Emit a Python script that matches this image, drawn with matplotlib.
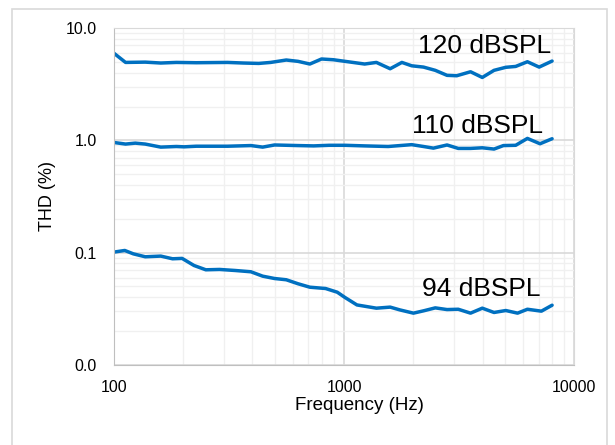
import matplotlib.pyplot as plt
from matplotlib.patches import Rectangle
from matplotlib.ticker import FixedLocator, FuncFormatter, LogLocator, NullFormatter

plt.rcParams['font.family'] = ['Liberation Sans', 'DejaVu Sans']

# THD en fonction de la frequence, trois niveaux de pression
freq_120 = [100, 112.5, 137, 160, 187, 228, 312, 365, 426, 480, 561, 631, 710, 798, 898,
            1010, 1228, 1381, 1585, 1782, 1966, 2212, 2488, 2799, 3085, 3540, 3981, 4477,
            5036, 5559, 6250, 7030, 8000]
thd_120 = [5.98, 4.94, 4.97, 4.88, 4.94, 4.91, 4.94, 4.88, 4.84, 4.94, 5.19, 5.05, 4.78, 5.30, 5.22,
           5.05, 4.78, 4.94, 4.34, 4.94, 4.61, 4.49, 4.20, 3.79, 3.76, 4.08, 3.63, 4.20,
           4.47, 4.55, 5.01, 4.49, 5.08]

freq_110 = [100, 112.5, 124, 137, 160, 187, 202, 228, 312, 394, 443, 499, 631, 738, 862,
            1010, 1228, 1553, 1966, 2212, 2442, 2799, 3131, 3540, 3981, 4477, 4918, 5559,
            6250, 7091, 8000]
thd_110 = [0.957, 0.926, 0.944, 0.926, 0.870, 0.881, 0.875, 0.886, 0.886, 0.898, 0.870, 0.909,
           0.898, 0.892, 0.903, 0.903, 0.892, 0.881, 0.915, 0.881, 0.852, 0.909, 0.847, 0.847,
           0.858, 0.836, 0.898, 0.903, 1.040, 0.932, 1.033]

freq_94 = [100, 111.6, 121.6, 137, 160, 180, 198, 223, 251, 288, 337, 394, 443, 499, 561,
           631, 710, 831, 934, 1010, 1137, 1381, 1585, 1745, 2000, 2212, 2488, 2799, 3131,
           3540, 3981, 4477, 5036, 5665, 6250, 7189, 8000]
thd_94 = [0.101, 0.1045, 0.0975, 0.0918, 0.0931, 0.0881, 0.0888, 0.0768, 0.0703, 0.0708,
          0.0693, 0.0675, 0.0617, 0.0588, 0.0573, 0.0528, 0.0492, 0.0479, 0.0444, 0.0398,
          0.0342, 0.0320, 0.0327, 0.0309, 0.0289, 0.0303, 0.0322, 0.0311, 0.0313, 0.0289,
          0.0320, 0.0293, 0.0305, 0.0289, 0.0313, 0.0301, 0.0340]

etiquettes = ['120 dBSPL', '110 dBSPL', '94 dBSPL']
pos_etiquettes = [(7900, 6.0), (7300, 1.17), (7160, 0.0407)]

bleu = '#0070C0'

fig = plt.figure(figsize=(6.15, 4.45), dpi=100)
fig.patches.append(Rectangle((12 / 615, -0.05), 595 / 615, 1 - 9 / 445 + 0.05,
                             transform=fig.transFigure, fill=False,
                             edgecolor='#d9d9d9', linewidth=1.2))
ax = fig.add_axes([0.185, 0.180, 0.749, 0.757])

for f, v in [(freq_120, thd_120), (freq_110, thd_110), (freq_94, thd_94)]:
    ax.plot(f, v, color=bleu, linewidth=2.5, solid_capstyle='round', solid_joinstyle='round')

for texte, (x, y) in zip(etiquettes, pos_etiquettes):
    ax.text(x, y, texte, ha='right', va='baseline', fontsize=19, color='black')

ax.set_xscale('log')
ax.set_yscale('log')
ax.set_xlim(100, 10000)
ax.set_ylim(0.01, 10)

ax.xaxis.set_major_locator(FixedLocator([100, 1000, 10000]))
ax.xaxis.set_minor_locator(LogLocator(base=10, subs=range(2, 10)))
ax.xaxis.set_major_formatter(FuncFormatter(lambda v, p: f"{v:.0f}"))
ax.xaxis.set_minor_formatter(NullFormatter())
ax.yaxis.set_major_locator(FixedLocator([0.01, 0.1, 1, 10]))
ax.yaxis.set_minor_locator(LogLocator(base=10, subs=range(2, 10)))
ax.yaxis.set_major_formatter(FuncFormatter(lambda v, p: f"{v:.1f}"))
ax.yaxis.set_minor_formatter(NullFormatter())

ax.grid(True, which='major', color='#d9d9d9', linewidth=1.2)
ax.grid(True, which='minor', color='#f0f0f0', linewidth=1.0)
ax.set_axisbelow(True)

ax.tick_params(which='both', length=0)
ax.tick_params(axis='x', pad=11, labelsize=11.5)
ax.tick_params(axis='y', pad=12, labelsize=11.5)

for cote in ['left', 'bottom']:
    ax.spines[cote].set_color('#bfbfbf')
for cote in ['top', 'right']:
    ax.spines[cote].set_color('#d9d9d9')

ax.set_xlabel('Frequency (Hz)', fontsize=13.5)
ax.xaxis.set_label_coords(0.534, -0.095)
ax.set_ylabel('THD (%)', fontsize=13)
ax.yaxis.set_label_coords(-0.125, 0.5)

plt.savefig('out.png', dpi=100)
plt.close()
